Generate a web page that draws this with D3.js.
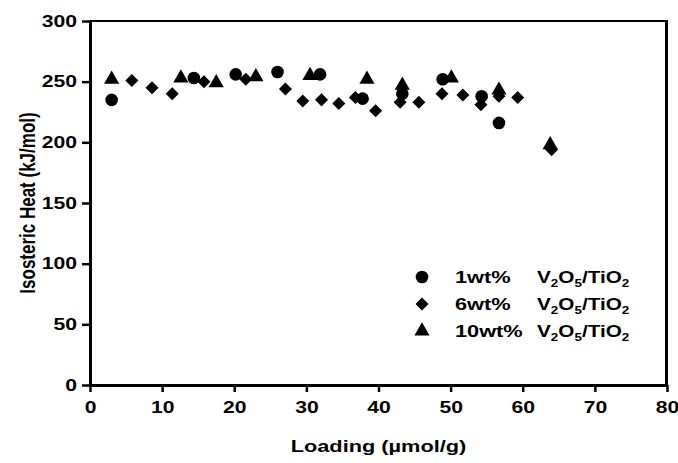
<!DOCTYPE html>
<html><head><meta charset="utf-8">
<script src="https://cdn.jsdelivr.net/npm/d3@7"></script>
<style>
body{margin:0;background:#fff;}
svg text{font-family:"Liberation Sans",Arial,sans-serif;font-weight:bold;fill:#000;}
</style></head>
<body><svg id="c" width="678" height="463"></svg>
<script>
const xTicks=[0,10,20,30,40,50,60,70,80];
const yTicks=[0,50,100,150,200,250,300];
const series1=[[3.0,235],[14.4,253],[20.2,256],[26,258],[31.9,256],[37.8,236],[43.3,240],[48.9,252],[54.3,238],[56.7,216]];
const series6=[[5.8,251],[8.6,245],[11.4,240],[15.8,250],[21.6,252],[27.1,244],[29.5,234],[32.1,235],[34.5,232],[36.8,237],[39.6,226],[43,233],[45.6,233],[48.8,240],[51.7,239],[54.2,231],[56.7,238],[59.3,237],[64,194]];
const series10=[[3.0,252],[12.6,253],[17.5,249],[23.0,254],[30.5,255],[38.4,252],[43.3,247],[50.1,253],[56.7,243],[63.8,198]];
const legendLabels=["1wt%","6wt%","10wt%"];

const SX=1.28; // horizontal stretch of the text in the original
const svg=d3.select("#c");
const L=90,R=667,T=21,B=385;
const x=d3.scaleLinear().domain([0,80]).range([L,R]);
const y=d3.scaleLinear().domain([0,300]).range([B,T]);

svg.append("line").attr("x1",L).attr("x2",R).attr("y1",T).attr("y2",T).attr("stroke","#000").attr("stroke-width",2);
svg.append("line").attr("x1",R-0.5).attr("x2",R-0.5).attr("y1",T-1).attr("y2",B).attr("stroke","#000").attr("stroke-width",3);

const xa=svg.append("g").attr("transform",`translate(0,${B})`)
  .call(d3.axisBottom(x).tickValues(xTicks).tickSize(7).tickSizeOuter(0).tickPadding(9));
const ya=svg.append("g").attr("transform",`translate(${L},0)`)
  .call(d3.axisLeft(y).tickValues(yTicks).tickSize(8).tickSizeOuter(0).tickPadding(5));
[xa,ya].forEach(a=>{
  a.select(".domain").attr("stroke","#000").attr("stroke-width",3);
  a.selectAll(".tick line").attr("stroke","#000").attr("stroke-width",2.5);
  a.selectAll(".tick text").style("font-size","16.5px").style("font-family","Liberation Sans, Arial, sans-serif").style("font-weight","bold").attr("fill","#000");
});
xa.selectAll(".tick text").each(function(){
  const t=d3.select(this); const yy=+t.attr("y")||0;
  t.attr("transform",`translate(0,${yy}) scale(${SX},1)`).attr("y",0).attr("dy","0.71em");
});
ya.selectAll(".tick text").each(function(){
  const t=d3.select(this); const xx=+t.attr("x")||0;
  t.attr("transform",`translate(${xx},0) scale(${SX},1)`).attr("x",0);
});

svg.append("text").attr("transform",`translate(${(L+R)/2},452) scale(${SX},1)`).attr("text-anchor","middle").style("font-size","17px").text("Loading (\u00b5mol/g)");
svg.append("text").attr("transform",`translate(35,${(T+B)/2}) rotate(-90) scale(1,${SX})`).attr("text-anchor","middle").style("font-size","17px").text("Isosteric Heat (kJ/mol)");

const diamond={draw(ctx,size){const r=Math.sqrt(size/2);ctx.moveTo(0,-r);ctx.lineTo(r,0);ctx.lineTo(0,r);ctx.lineTo(-r,0);ctx.closePath();}};
const sym={c:d3.symbol().type(d3.symbolCircle).size(125),d:d3.symbol().type(diamond).size(85),t:d3.symbol().type(d3.symbolTriangle).size(100)};
const plots=[[series6,"d"],[series1,"c"],[series10,"t"]];
plots.forEach(([data,k])=>{
  svg.append("g").selectAll("path").data(data).enter().append("path")
    .attr("d",sym[k]()).attr("fill","#000")
    .attr("transform",d=>`translate(${x(d[0])},${y(d[1])})`);
});

const lg=svg.append("g");
const keys=["c","d","t"];
const ly=[277,304,331];
legendLabels.forEach((lab,i)=>{
  lg.append("path").attr("d",sym[keys[i]]()).attr("fill","#000").attr("transform",`translate(422,${ly[i]})`);
  lg.append("text").attr("transform",`translate(455,${ly[i]+6}) scale(${SX},1)`).style("font-size","17px").text(lab);
  const t=lg.append("text").attr("transform",`translate(537,${ly[i]+6}) scale(1.22,1)`).style("font-size","17px");
  t.append("tspan").text("V");
  t.append("tspan").attr("dy",4).style("font-size","11px").text("2");
  t.append("tspan").attr("dy",-4).text("O");
  t.append("tspan").attr("dy",4).style("font-size","11px").text("5");
  t.append("tspan").attr("dy",-4).text("/TiO");
  t.append("tspan").attr("dy",4).style("font-size","11px").text("2");
});
</script></body></html>
